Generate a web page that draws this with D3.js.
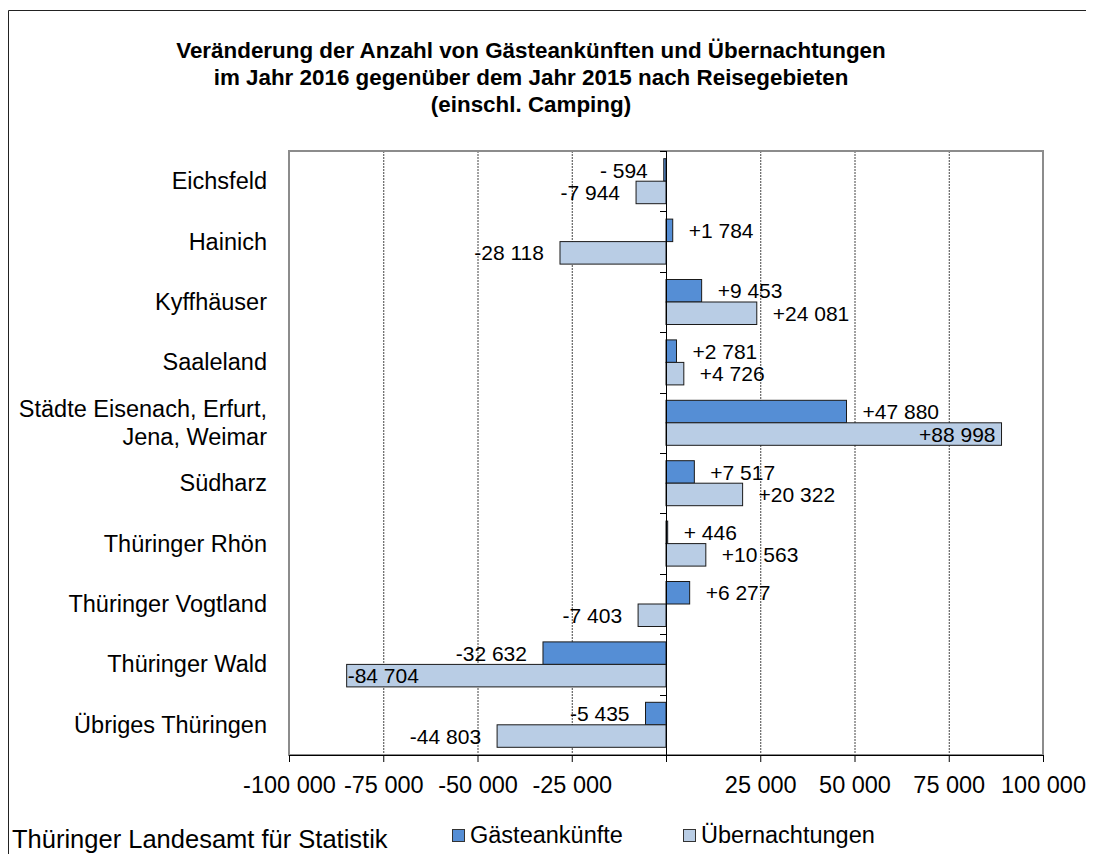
<!DOCTYPE html>
<html>
<head>
<meta charset="utf-8">
<script src="https://cdn.jsdelivr.net/npm/d3@7"></script>
<style>
  body { margin: 0; background: #fff; }
  svg { display: block; font-family: "Liberation Sans", Arial, sans-serif; }
</style>
</head>
<body>
<svg id="chart" width="1094" height="854"></svg>
<script>
// ---- data ----
const categories = [
  "Eichsfeld",
  "Hainich",
  "Kyffhäuser",
  "Saaleland",
  "Städte Eisenach, Erfurt,\nJena, Weimar",
  "Südharz",
  "Thüringer Rhön",
  "Thüringer Vogtland",
  "Thüringer Wald",
  "Übriges Thüringen"
];
const seriesNames = ["Gästeankünfte", "Übernachtungen"];
const gaesteankuenfte = [-594, 1784, 9453, 2781, 47880, 7517, 446, 6277, -32632, -5435];
const uebernachtungen = [-7944, -28118, 24081, 4726, 88998, 20322, 10563, -7403, -84704, -44803];
const xTicks = [-100000, -75000, -50000, -25000, 0, 25000, 50000, 75000, 100000];
const titleLines = [
  "Veränderung der Anzahl von Gästeankünften und Übernachtungen",
  "im Jahr 2016 gegenüber dem Jahr 2015 nach Reisegebieten",
  "(einschl. Camping)"
];
const sourceText = "Thüringer Landesamt für Statistik";

// ---- style ----
const colors = ["#558ED5", "#B9CDE5"];
const plot = { left: 289, right: 1043, top: 151, bottom: 755 };

const svg = d3.select("#chart");

// outer frame (top + left)
svg.append("path")
  .attr("d", "M8.5,854 L8.5,10.5 L1086,10.5")
  .attr("fill", "none").attr("stroke", "#222").attr("stroke-width", 1);

// title
svg.append("text")
  .attr("x", 531).attr("y", 58)
  .attr("text-anchor", "middle")
  .attr("font-weight", "bold").attr("font-size", 22.4)
  .selectAll("tspan").data(titleLines).join("tspan")
  .attr("x", 531).attr("dy", (d, i) => i === 0 ? 0 : 27)
  .text(d => d);

// scales
const x = d3.scaleLinear().domain([xTicks[0], xTicks[xTicks.length - 1]]).range([plot.left, plot.right]);
const y = d3.scaleBand().domain(categories).range([plot.top, plot.bottom]).paddingInner(0.255).paddingOuter(0.1275);
const ySub = d3.scaleBand().domain([0, 1]).range([0, y.bandwidth()]);

// gridlines
svg.append("g").selectAll("line")
  .data(xTicks.filter(t => t !== 0 && t !== xTicks[0] && t !== xTicks[xTicks.length - 1]))
  .join("line")
  .attr("x1", d => x(d) + 0.5).attr("x2", d => x(d) + 0.5)
  .attr("y1", plot.top).attr("y2", plot.bottom)
  .attr("stroke", "#444").attr("stroke-width", 1).attr("stroke-dasharray", "2,1");

// plot border
svg.append("rect")
  .attr("x", plot.left).attr("y", plot.top)
  .attr("width", plot.right - plot.left).attr("height", plot.bottom - plot.top)
  .attr("fill", "none").attr("stroke", "#8c8c8c").attr("stroke-width", 2);

// number format
const grp = d3.formatLocale({ decimal: ",", thousands: " ", grouping: [3], currency: ["", ""] }).format(",d");
function fmtAxis(v) { return v === 0 ? "" : (v < 0 ? "-" : "") + grp(Math.abs(v)); }
function fmtLabel(v) {
  const a = Math.abs(v);
  return (v < 0 ? "-" : "+") + (a < 1000 ? " " + a : grp(a));
}

// bars
const series = [gaesteankuenfte, uebernachtungen];
const barData = [];
categories.forEach((c, i) => series.forEach((s, k) => barData.push({ cat: c, k, v: s[i] })));

svg.append("g").selectAll("rect").data(barData).join("rect")
  .attr("x", d => x(Math.min(0, d.v)))
  .attr("y", d => y(d.cat) + ySub(d.k))
  .attr("width", d => Math.abs(x(d.v) - x(0)))
  .attr("height", ySub.bandwidth())
  .attr("fill", d => colors[d.k])
  .attr("stroke", "#1a1a1a").attr("stroke-width", 1);

// data labels
const labelSize = 21;
const gap = 16;
const lg = svg.append("g").attr("font-size", labelSize).attr("fill", "#000");
barData.forEach(d => {
  const t = lg.append("text")
    .attr("y", y(d.cat) + ySub(d.k) + ySub.bandwidth() / 2)
    .attr("dy", "0.36em")
    .text(fmtLabel(d.v));
  const w = t.node().getComputedTextLength();
  const end = x(d.v);
  if (d.v >= 0) {
    if (end + gap + w > plot.right) t.attr("x", end - 6).attr("text-anchor", "end");
    else t.attr("x", end + gap).attr("text-anchor", "start");
  } else {
    if (end - gap - w < plot.left) t.attr("x", end + 1).attr("text-anchor", "start");
    else t.attr("x", end - gap).attr("text-anchor", "end");
  }
});

// zero line with category ticks
svg.append("line")
  .attr("x1", x(0) + 0.5).attr("x2", x(0) + 0.5)
  .attr("y1", plot.top).attr("y2", plot.bottom)
  .attr("stroke", "#000").attr("stroke-width", 1);
svg.append("g").selectAll("line").data(d3.range(categories.length + 1)).join("line")
  .attr("x1", x(0) - 6).attr("x2", x(0))
  .attr("y1", i => Math.round(plot.top + i * y.step()) + 0.5)
  .attr("y2", i => Math.round(plot.top + i * y.step()) + 0.5)
  .attr("stroke", "#000");

// category labels
const catG = svg.append("g").attr("font-size", 23.5).attr("text-anchor", "end");
categories.forEach(c => {
  const lines = c.split("\n");
  const cy = y(c) + y.bandwidth() / 2;
  const t = catG.append("text").attr("x", 267).attr("y", cy + 8 - (lines.length - 1) * 14);
  lines.forEach((l, i) => t.append("tspan").attr("x", 267).attr("dy", i === 0 ? 0 : 28).text(l));
});

// bottom axis
const axis = svg.append("g")
  .attr("transform", `translate(0,${plot.bottom})`)
  .call(d3.axisBottom(x).tickValues(xTicks).tickFormat(fmtAxis).tickSize(7).tickSizeOuter(0).tickPadding(14));
axis.select(".domain").attr("stroke", "#000");
axis.selectAll(".tick line").attr("stroke", "#000");
axis.selectAll("text").attr("font-size", 23.5).attr("font-family", "Liberation Sans, Arial, sans-serif").attr("fill", "#000");

// legend
const legendX = [452, 683];
const leg = svg.append("g");
seriesNames.forEach((n, k) => {
  leg.append("rect").attr("x", legendX[k] + 0.5).attr("y", 829.5).attr("width", 12).attr("height", 12)
    .attr("fill", colors[k]).attr("stroke", "#333");
  leg.append("text").attr("x", legendX[k] + 18).attr("y", 842.5).attr("font-size", 23.5).text(n);
});

// source
svg.append("text").attr("x", 12).attr("y", 848).attr("font-size", 25.5).text(sourceText);
</script>
</body>
</html>
